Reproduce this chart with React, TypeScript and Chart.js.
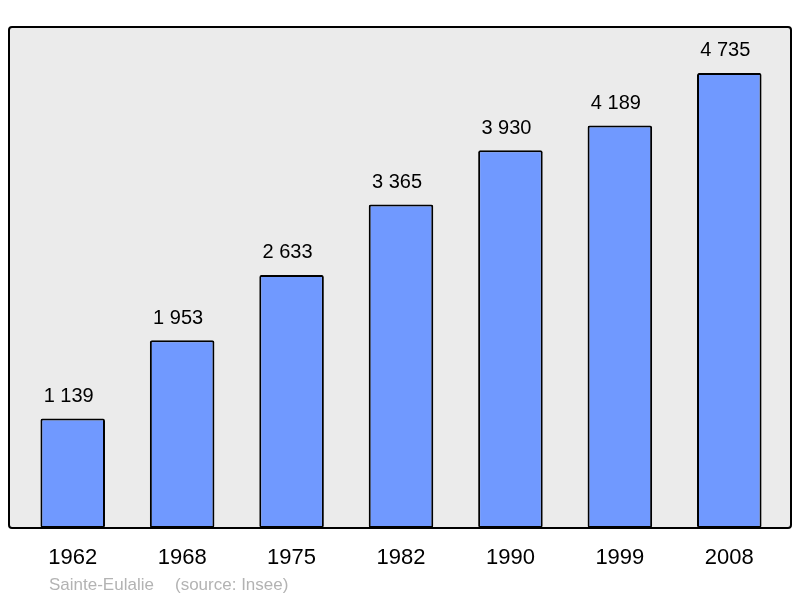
import React, { useEffect, useRef } from "react";
import { Chart, registerables } from "chart.js";

Chart.register(...registerables);

const years = ["1962", "1968", "1975", "1982", "1990", "1999", "2008"];
const population = [1139, 1953, 2633, 3365, 3930, 4189, 4735];
const sourceLabel = "Sainte-Eulalie";
const sourceNote = "(source: Insee)";

const fmt = (v: number) => {
  const s = String(v);
  return s.replace(/\B(?=(\d{3})+(?!\d))/g, " ");
};

const FONT = "'Liberation Sans', Arial, sans-serif";

const framePlugin = {
  id: "frame",
  beforeDraw(chart: any) {
    const { ctx, chartArea } = chart;
    const l = 9, r = 791;
    const t = chartArea.top, b = chartArea.bottom;
    ctx.save();
    ctx.fillStyle = "#ebebeb";
    ctx.beginPath();
    (ctx as any).roundRect(l, t, r - l, b - t, 3);
    ctx.fill();
    ctx.restore();
  },
  afterDatasetsDraw(chart: any) {
    const { ctx, chartArea } = chart;
    const l = 9, r = 791;
    const t = chartArea.top, b = chartArea.bottom;
    ctx.save();
    ctx.strokeStyle = "#000";
    ctx.lineWidth = 2;
    ctx.beginPath();
    (ctx as any).roundRect(l, t, r - l, b - t, 3);
    ctx.stroke();
    // value labels
    const meta = chart.getDatasetMeta(0);
    ctx.fillStyle = "#000";
    ctx.font = `20px ${FONT}`;
    ctx.textAlign = "center";
    ctx.textBaseline = "middle";
    meta.data.forEach((el: any, i: number) => {
      ctx.fillText(fmt(population[i]), el.x - 4, el.y - 22);
    });
    // source
    ctx.fillStyle = "#b3b3b3";
    ctx.font = `17px ${FONT}`;
    ctx.textAlign = "left";
    ctx.textBaseline = "alphabetic";
    ctx.fillText(sourceLabel, 49, 590);
    ctx.fillText(sourceNote, 175, 590);
    ctx.restore();
  },
};

export default function App() {
  const ref = useRef<HTMLCanvasElement>(null);
  useEffect(() => {
    if (!ref.current) return;
    const chart = new Chart(ref.current, {
      type: "bar",
      data: {
        labels: years,
        datasets: [
          {
            data: population,
            backgroundColor: "#7099ff",
            borderColor: "#000",
            borderWidth: 2,
            borderRadius: 2,
            borderSkipped: false,
            barPercentage: 0.59,
            categoryPercentage: 1,
          },
        ],
      },
      options: {
        animation: false,
        responsive: true,
        maintainAspectRatio: false,
        layout: { padding: { left: 18, right: 16, top: 27, bottom: 10.6 } },
        plugins: { legend: { display: false }, tooltip: { enabled: false } },
        scales: {
          x: {
            grid: { display: false, drawTicks: false },
            border: { display: false },
            ticks: { color: "#000", font: { size: 22, family: FONT }, padding: 16.5 },
          },
          y: {
            display: false,
            min: 0,
            max: 5213,
          },
        },
      },
      plugins: [framePlugin],
    });
    return () => chart.destroy();
  }, []);
  return (
    <div style={{ position: "absolute", left: 0, top: 0, width: 800, height: 598, background: "#fff" }}>
      <canvas ref={ref} />
    </div>
  );
}
